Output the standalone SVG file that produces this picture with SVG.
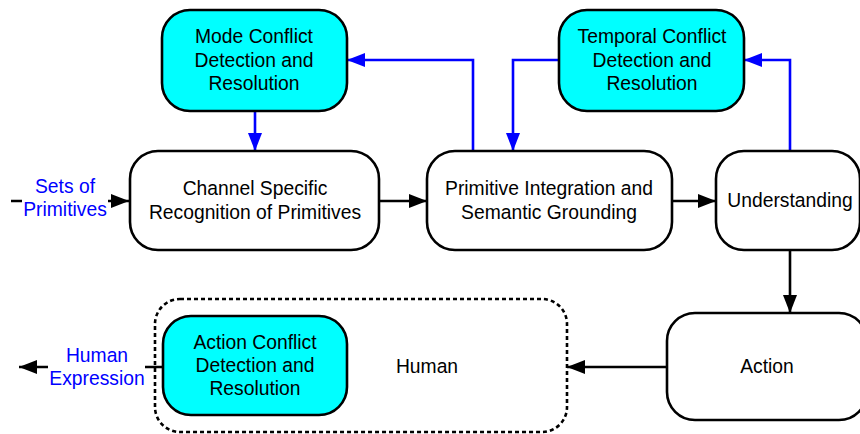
<svg xmlns="http://www.w3.org/2000/svg" width="860" height="434" viewBox="0 0 860 434">
  <style>
    .box { fill: #ffffff; stroke: #000000; stroke-width: 2.6; }
    .conflict { fill: #00ffff; stroke: #000000; stroke-width: 2.6; }
    .group { fill: none; stroke: #000000; stroke-width: 2.6; stroke-dasharray: 4 3; }
    .txt { font-family: "Liberation Sans", Arial, sans-serif; font-size: 19.3px; fill: #000000; text-anchor: middle; }
    .lbl { font-family: "Liberation Sans", Arial, sans-serif; font-size: 19.3px; fill: #0000ff; text-anchor: middle; }
    .flow { fill: none; stroke: #000000; stroke-width: 2.6; marker-end: url(#arrowBlack); }
    .feedback { fill: none; stroke: #0000ff; stroke-width: 2.6; marker-end: url(#arrowBlue); }
  </style>
  <defs>
    <marker id="arrowBlack" markerUnits="userSpaceOnUse" markerWidth="20" markerHeight="14" refX="18" refY="7" orient="auto">
      <path d="M0,0 L18,7 L0,14 Z" fill="#000000"/>
    </marker>
    <marker id="arrowBlue" markerUnits="userSpaceOnUse" markerWidth="20" markerHeight="14" refX="18" refY="7" orient="auto">
      <path d="M0,0 L18,7 L0,14 Z" fill="#0000ff"/>
    </marker>
  </defs>

  <rect width="860" height="434" fill="#ffffff"/>

  <!-- connectors -->
  <g id="connectors">
    <path class="flow" d="M11,201 L129,201"/>
    <path class="flow" d="M379,201 L427,201"/>
    <path class="flow" d="M672,201 L716,201"/>
    <path class="flow" d="M790,250 L790,313"/>
    <path class="flow" d="M667,367 L567,367"/>
    <path class="flow" d="M163,367 L19,367"/>
    <path class="feedback" d="M255,111 L255,151"/>
    <path class="feedback" d="M473,151 L473,60 L347,60"/>
    <path class="feedback" d="M559,60 L513,60 L513,151"/>
    <path class="feedback" d="M790,151 L790,60 L744,60"/>
    <!-- edge labels -->
    <g id="label-sets">
      <rect x="22" y="176" width="86" height="46" fill="#ffffff"/>
      <text class="lbl" x="65" y="193">Sets of</text>
      <text class="lbl" x="65" y="216">Primitives</text>
    </g>
    <g id="label-expression">
      <rect x="48" y="342" width="97" height="48" fill="#ffffff"/>
      <text class="lbl" x="97" y="362">Human</text>
      <text class="lbl" x="97" y="385">Expression</text>
    </g>
  </g>

  <g id="mode-conflict">
    <rect class="conflict" x="162" y="10" width="185" height="101" rx="28"/>
    <text class="txt" x="254" y="43">Mode Conflict</text>
    <text class="txt" x="254" y="67">Detection and</text>
    <text class="txt" x="254" y="90">Resolution</text>
  </g>

  <g id="temporal-conflict">
    <rect class="conflict" x="559" y="10" width="185" height="101" rx="28"/>
    <text class="txt" x="652" y="43">Temporal Conflict</text>
    <text class="txt" x="652" y="67">Detection and</text>
    <text class="txt" x="652" y="90">Resolution</text>
  </g>

  <g id="channel-recognition">
    <rect class="box" x="130" y="151" width="249" height="99" rx="28"/>
    <text class="txt" x="255" y="195">Channel Specific</text>
    <text class="txt" x="255" y="219">Recognition of Primitives</text>
  </g>

  <g id="primitive-integration">
    <rect class="box" x="427" y="151" width="245" height="99" rx="28"/>
    <text class="txt" x="549" y="195">Primitive Integration and</text>
    <text class="txt" x="549" y="219">Semantic Grounding</text>
  </g>

  <g id="understanding">
    <rect class="box" x="716" y="151" width="144" height="99" rx="28"/>
    <text class="txt" x="790" y="207">Understanding</text>
  </g>

  <g id="action">
    <rect class="box" x="667" y="313" width="200" height="107" rx="28"/>
    <text class="txt" x="767" y="373">Action</text>
  </g>

  <g id="human">
    <rect class="group" x="155" y="299" width="412" height="133" rx="25"/>
    <text class="txt" x="427" y="373">Human</text>
  </g>

  <g id="action-conflict">
    <rect class="conflict" x="163" y="316" width="184" height="99" rx="28"/>
    <text class="txt" x="255" y="349">Action Conflict</text>
    <text class="txt" x="255" y="372">Detection and</text>
    <text class="txt" x="255" y="395">Resolution</text>
  </g>
</svg>
